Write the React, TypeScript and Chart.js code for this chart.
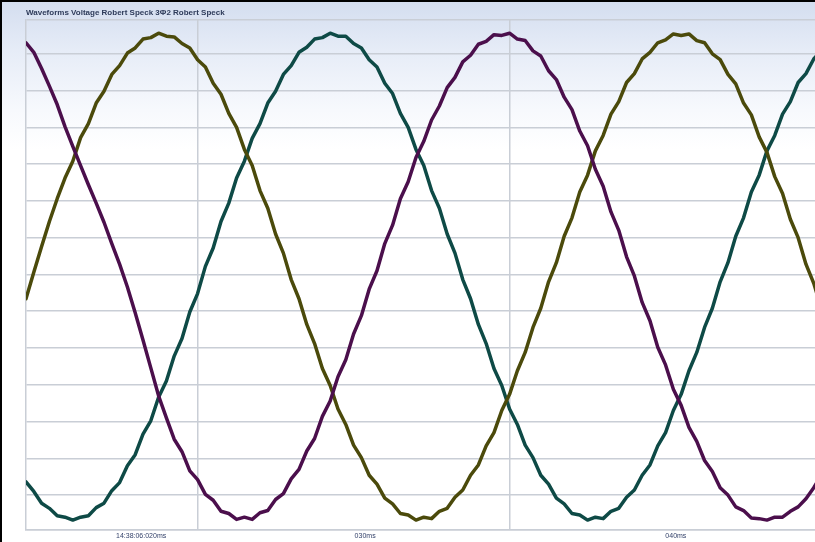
import { useEffect, useRef } from "react";
import { Chart, registerables } from "chart.js";

Chart.register(...registerables);

const TITLE = "Waveforms Voltage Robert Speck 3Φ2 Robert Speck";

// sample timing (ms)
const T0 = 14.5;
const DT = 0.25;

// phase voltages (V), one sample every 0.25 ms
const purple = [
  315, 302, 280, 256, 231, 201, 174, 148, 122, 97, 71, 42, 14, -17, -52, -89, -127, -165, -195, -224,
  -241, -267, -279, -299, -307, -322, -325, -333, -330, -333, -324, -321, -306, -298, -278, -265, -240, -223, -193, -172,
  -139, -116, -81, -56, -20, 5, 42, 67, 103, 126, 159, 181, 210, 229, 254, 268, 289, 298, 313, 317,
  326, 325, 328, 320, 318, 304, 297, 277, 265, 241, 224, 195, 175, 143, 120, 85, 60, 24, -2, -38,
  -63, -99, -123, -156, -178, -208, -227, -253, -268, -290, -300, -316, -321, -331, -332, -334, -330, -330, -322, -316,
  -305, -290, -272,
];

const olive = [
  -33, 3, 38, 72, 103, 131, 154, 186, 205, 233, 249, 272, 284, 301, 308, 320, 322, 328, 324, 323,
  314, 308, 292, 282, 260, 245, 219, 200, 170, 148, 114, 90, 55, 29, -7, -33, -68, -94, -128, -151,
  -183, -204, -232, -249, -273, -285, -304, -312, -325, -327, -334, -330, -332, -322, -318, -303, -293, -273, -259, -233,
  -215, -185, -163, -131, -106, -72, -46, -10, 16, 52, 77, 112, 135, 168, 189, 218, 235, 261, 273, 293,
  302, 315, 319, 327, 325, 327, 318, 315, 300, 292, 272, 259, 233, 217, 187, 166, 133, 110, 75, 50,
  14, -12, -47,
];

const teal = [
  -282, -295, -311, -318, -328, -330, -334, -330, -328, -317, -311, -294, -283, -260, -245, -217, -199, -167, -145, -111,
  -87, -51, -26, 11, 36, 72, 97, 131, 154, 185, 205, 233, 249, 272, 284, 302, 309, 320, 322, 328,
  324, 324, 314, 308, 292, 282, 260, 246, 219, 200, 170, 148, 114, 90, 55, 29, -7, -33, -68, -94,
  -128, -151, -183, -204, -232, -249, -273, -285, -304, -312, -325, -327, -334, -330, -332, -322, -318, -303, -293, -273,
  -259, -233, -215, -185, -163, -131, -106, -72, -46, -10, 16, 52, 77, 112, 135, 168, 189, 218, 235, 261,
  273, 293, 305,
];

// axes
const X_MIN = 14.5;
const X_MAX = 39.79;
const gridTimes = [20, 30];
const labelTimes = [18.19, 25.37, 35.33];
const labelTexts = ["14:38:06:020ms", "030ms", "040ms"];
const V_MIN = -346.5;
const V_MAX = 346.5;
const voltGrid = [-300, -250, -200, -150, -100, -50, 0, 50, 100, 150, 200, 250, 300];

const GRID = "#c9ced6";

export default function App() {
  const ref = useRef<HTMLCanvasElement>(null);

  useEffect(() => {
    if (!ref.current) return;
    const toPts = (arr: number[]) => arr.map((v, i) => ({ x: T0 + i * DT, y: v }));
    const ds = (label: string, arr: number[], color: string) => ({
      label,
      data: toPts(arr),
      borderColor: color,
      backgroundColor: color,
      borderWidth: 3.5,
      pointRadius: 0,
      tension: 0,
      borderJoinStyle: "round" as const,
      borderCapStyle: "round" as const,
    });
    const chart = new Chart(ref.current, {
      type: "line",
      data: {
        datasets: [
          ds("L1", purple, "#4b0f4c"),
          ds("L2", olive, "#4b4a0b"),
          ds("L3", teal, "#0e4a46"),
        ],
      },
      options: {
        animation: false,
        responsive: false,
        devicePixelRatio: 1,
        layout: { padding: { left: 26, right: 0, top: 0, bottom: 0 } },
        plugins: {
          legend: { display: false },
          tooltip: { enabled: false },
          title: {
            display: true,
            text: TITLE,
            align: "start",
            color: "#2e3b5a",
            font: { family: "Arial, 'Liberation Sans', sans-serif", size: 8, weight: "bold" },
            padding: { top: 8, bottom: 2 },
          },
        },
        scales: {
          x: {
            type: "linear",
            min: X_MIN,
            max: X_MAX,
            afterBuildTicks: (s: any) => {
              const vals = [...gridTimes, ...labelTimes].sort((a, b) => a - b);
              s.ticks = vals.map((v) => ({ value: v }));
            },
            afterFit: (s: any) => {
              s.height = 12.7;
            },
            grid: {
              color: (c: any) =>
                c.tick && gridTimes.includes(c.tick.value) ? GRID : "rgba(0,0,0,0)",
              lineWidth: 1.5,
              drawTicks: false,
            },
            border: { display: true, color: GRID, width: 1.5 },
            ticks: {
              autoSkip: false,
              maxRotation: 0,
              minRotation: 0,
              padding: 3,
              color: "#34426a",
              font: { family: "Arial, 'Liberation Sans', sans-serif", size: 7 },
              callback: (v: any) => {
                const k = labelTimes.indexOf(Number(v));
                return k >= 0 ? labelTexts[k] : "";
              },
            },
          },
          y: {
            type: "linear",
            min: V_MIN,
            max: V_MAX,
            afterBuildTicks: (s: any) => {
              s.ticks = [V_MIN, ...voltGrid, V_MAX].map((v) => ({ value: v }));
            },
            afterFit: (s: any) => {
              s.width = 0;
            },
            grid: { color: GRID, lineWidth: 1.5, drawTicks: false },
            border: { display: true, color: GRID, width: 1.5 },
            ticks: { display: false },
          },
        },
      },
    });
    return () => chart.destroy();
  }, []);

  return (
    <div
      style={{
        position: "fixed",
        left: 0,
        top: 0,
        width: 815,
        height: 542,
        overflow: "hidden",
        background: "linear-gradient(180deg, #d3ddef 0px, #e6ecf7 50px, #f7f9fd 110px, #ffffff 150px)",
      }}
    >
      <canvas ref={ref} width={815} height={542} style={{ display: "block", width: 815, height: 542 }} />
      <div
        style={{
          position: "absolute",
          left: 0,
          top: 0,
          width: 815,
          height: 542,
          boxSizing: "border-box",
          borderLeft: "2px solid #000",
          borderTop: "2px solid #000",
          pointerEvents: "none",
        }}
      />
    </div>
  );
}
